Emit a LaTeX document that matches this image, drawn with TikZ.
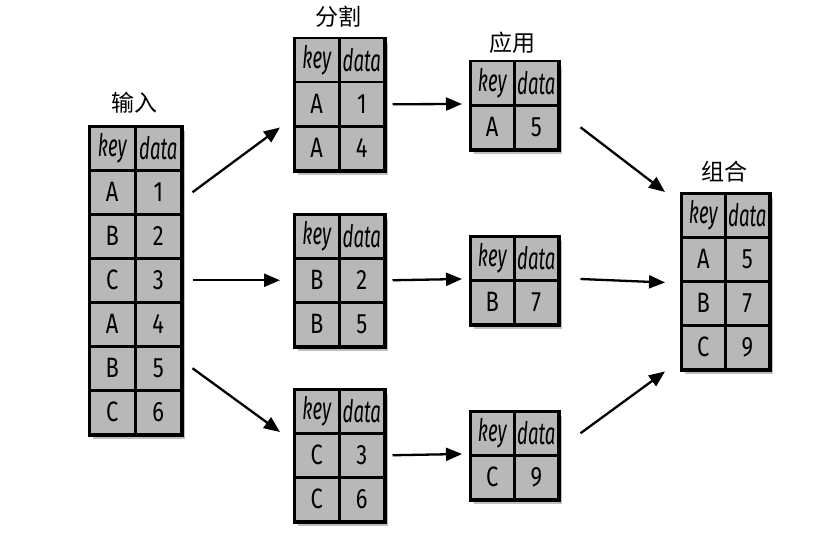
\documentclass[tikz,border=0pt]{standalone}
\usepackage{fontspec}
\setmainfont{Fira Sans}[FakeStretch=0.78]
\newfontfamily\hdrfont{Fira Sans Italic}[FakeStretch=0.6]
\newfontfamily\cjk{Noto Sans CJK SC}
\usetikzlibrary{shadows,arrows.meta}
\tikzset{
 cell/.style={draw=black, line width=2.5pt, fill=black!28, minimum height=44pt, inner sep=0pt, font=\fontsize{28}{30}\selectfont, anchor=north west},
 tframe/.style={draw=black, line width=3.5pt, fill=black!28, inner sep=0pt, anchor=north west, drop shadow={shadow xshift=3pt, shadow yshift=-4pt, opacity=0.5}},
 hcell/.style={cell, font=\hdrfont\fontsize{31}{33}\selectfont},
 hdr/.style={font=\cjk\fontsize{23}{25}\selectfont},
 arr/.style={-{Triangle[length=16pt,width=13pt]}, line width=2.3pt},
}
\newcommand\mktable[6]{%
 \node[tframe, minimum width={2*#4*1pt}, minimum height={(#5+1)*44pt}] (#1) at (#2,#3) {};
 \node[hcell, minimum width=#4pt] (#1-hk) at (#2,#3) {key};
 \node[hcell, minimum width=#4pt] (#1-hd) at (#2+#4,#3) {data};
 \foreach \k/\d [count=\i] in {#6} {
   \node[cell, minimum width=#4pt] (#1-\i-k) at (#2, #3+44*\i) {\k};
   \node[cell, minimum width=#4pt] (#1-\i-d) at (#2+#4, #3+44*\i) {\d};
 }
}
\begin{document}
\begin{tikzpicture}[x=1pt,y=-1pt]
\useasboundingbox[fill=white] (0,0) rectangle (822,535);
\mktable{in}{88}{125}{46}{6}{A/1,B/2,C/3,A/4,B/5,C/6}
\mktable{s1}{293}{37}{45}{2}{A/1,A/4}
\mktable{s2}{293}{213}{45}{2}{B/2,B/5}
\mktable{s3}{293}{388}{45}{2}{C/3,C/6}
\mktable{a1}{469}{60}{44}{1}{A/5}
\mktable{a2}{469}{235}{44}{1}{B/7}
\mktable{a3}{469}{410}{44}{1}{C/9}
\mktable{c}{680}{192}{44}{3}{A/5,B/7,C/9}
\node[hdr] (lin) at (134,103) {输入};
\node[hdr] (lsp) at (338,17) {分割};
\node[hdr] (lap) at (512,43) {应用};
\node[hdr] (lco) at (724,172) {组合};
\draw[arr] ([xshift=10pt]in-1-d.east) -- ([xshift=-13pt]s1-1-k.south west);
\draw[arr] ([xshift=10pt]in-3-d.east) -- ([xshift=-13pt]s2-1-k.west);
\draw[arr] ([xshift=10pt]in-5-d.east) -- ([xshift=-13pt]s3-1-k.north west);
\draw[arr] ([xshift=7pt]s1-1-d.east) -- ([xshift=-7pt]a1-1-k.north west);
\draw[arr] ([xshift=7pt]s2-1-d.east) -- ([xshift=-7pt]a2-1-k.north west);
\draw[arr] ([xshift=7pt]s3-1-d.east) -- ([xshift=-7pt]a3-1-k.north west);
\draw[arr] ([xshift=21pt]a1-1-d.east) -- ([xshift=-15pt]c.north west);
\draw[arr] ([xshift=21pt]a2-1-d.north east) -- ([xshift=-15pt]c-1-k.south west);
\draw[arr] ([xshift=21pt]a3-hd.east) -- ([xshift=-15pt]c.south west);
\end{tikzpicture}
\end{document}
